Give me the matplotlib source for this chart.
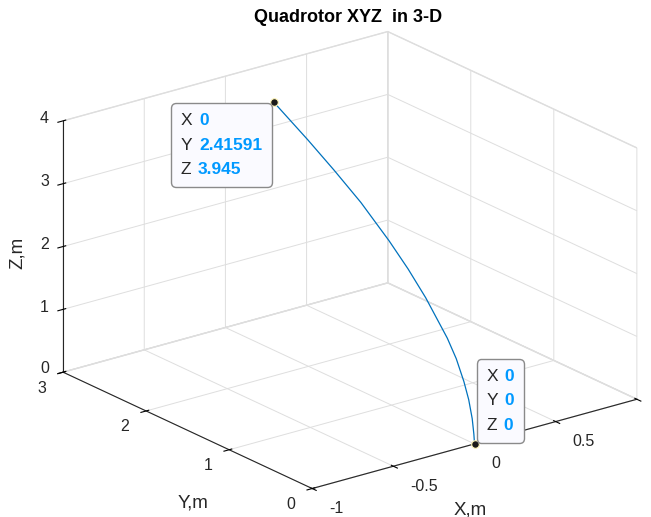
import matplotlib.pyplot as plt
import numpy as np
from matplotlib.offsetbox import TextArea, HPacker, VPacker, AnnotationBbox
from mpl_toolkits.mplot3d import proj3d

# trajectory (x stays 0)
x_traj = [0, 0, 0, 0, 0, 0, 0, 0, 0, 0, 0, 0, 0, 0]
y_traj = [0, 0.008, 0.028, 0.07, 0.128, 0.22, 0.328, 0.588, 0.80, 1.029, 1.369, 1.689, 2.008, 2.41591]
z_traj = [0, 0.15, 0.385, 0.66, 0.913, 1.22, 1.481, 1.963, 2.29, 2.597, 2.998, 3.31, 3.60, 3.945]

x_ticks = [-1, -0.5, 0, 0.5, 1]
x_ticklabels = ['-1', '-0.5', '0', '0.5', '']
y_ticks = [0, 1, 2, 3]
z_ticks = [0, 1, 2, 3, 4]

tips = [(0, 0, 0), (0, 2.41591, 3.945)]
tip_text = [['0', '0', '0'], ['0', '2.41591', '3.945']]

plt.rcParams['font.family'] = ['Liberation Sans', 'DejaVu Sans']
plt.rcParams['font.size'] = 11.5
dark = '#262626'
blue = '#0099ff'

fig = plt.figure(figsize=(6.51, 5.17), dpi=100)
ax = fig.add_axes([0.0275, 0.0143, 1.0, 0.94], projection='3d', proj_type='ortho')
ax.view_init(elev=21, azim=-127.5)
ax.set_box_aspect((1.52, 1.52, 1), zoom=1.275)

ax.plot(x_traj, y_traj, z_traj, color='#0072BD', lw=0.9)
for tx, ty, tz in tips:
    ax.scatter([tx], [ty], [tz], s=30, c='#1a1a1a', edgecolors='#fff6b8',
               linewidths=0.8, depthshade=False, zorder=5)

ax.set_xlim(-1, 1)
ax.set_ylim(0, 3)
ax.set_zlim(0, 4)
ax.set_xticks(x_ticks)
ax.set_yticks(y_ticks)
ax.set_zticks(z_ticks)
ax.set_xticklabels([])
ax.set_yticklabels([])
ax.set_zticklabels([])

for a in (ax.xaxis, ax.yaxis, ax.zaxis):
    a.set_pane_color((1, 1, 1, 1))
    a.pane.set_edgecolor('#dedede')
    a._axinfo['grid']['color'] = '#dedede'
    a._axinfo['grid']['linewidth'] = 0.7
    a._axinfo['tick']['color'] = dark
    a.line.set_color(dark)
    a.line.set_linewidth(0.8)

fig.text(348 / 651, 1 - 17 / 517, 'Quadrotor XYZ  in 3-D', fontweight='bold',
         fontsize=13, ha='center', va='center', color='black')

fig.canvas.draw()

# hide the empty built-in tick labels
for a in (ax.xaxis, ax.yaxis, ax.zaxis):
    for tk in a.get_major_ticks():
        tk.label1.set_visible(False)
        tk.label2.set_visible(False)


def to2d(x, y, z):
    px, py, _ = proj3d.proj_transform(x, y, z, ax.M)
    return px, py


def label3d(x, y, z, s, dx, dy, **kw):
    ax.annotate(s, to2d(x, y, z), xycoords='data', xytext=(dx, dy),
                textcoords='offset pixels', color=dark, annotation_clip=False, **kw)


for t, s in zip(x_ticks, x_ticklabels):
    if s:
        label3d(t, 0, 0, s, 17, -20, ha='left', va='center')
for t in y_ticks:
    label3d(-1, t, 0, str(t), -21, -16, ha='center', va='center')
for t in z_ticks:
    label3d(-1, 3, t, str(t), -14, 4 if t == 0 else 2, ha='right', va='center')

label3d(0, 0, 0, 'X,m', -4, -66, ha='center', va='center', fontsize=13.5)
label3d(-1, 1.5, 0, 'Y,m', 5, -73, ha='center', va='center', fontsize=13.5)
label3d(-1, 3, 2, 'Z,m', -46, -6, ha='center', va='center', rotation=90, fontsize=13.5)

# data tips
corners = [((0, 0), (2, 1)), ((1, 1), (-2, -1))]
for (tx, ty, tz), vals, (align, off) in zip(tips, tip_text, corners):
    rows = []
    for name, v in zip(['X', 'Y', 'Z'], vals):
        rows.append(HPacker(children=[
            TextArea(name, textprops=dict(color=dark, fontsize=12.5)),
            TextArea(v, textprops=dict(color=blue, fontsize=12.5, fontweight='bold'))],
            sep=5, pad=0, align='baseline'))
    box = VPacker(children=rows, sep=7, pad=7, align='left')
    ab = AnnotationBbox(box, to2d(tx, ty, tz), xycoords='data', xybox=off,
                        boxcoords='offset pixels', box_alignment=align, frameon=True,
                        bboxprops=dict(boxstyle='round,pad=0,rounding_size=0.3',
                                       fc='#fafaff', ec='#8a8a8a', lw=1))
    ab.set_zorder(10)
    ax.add_artist(ab)

fig.savefig('out.png', dpi=100)
